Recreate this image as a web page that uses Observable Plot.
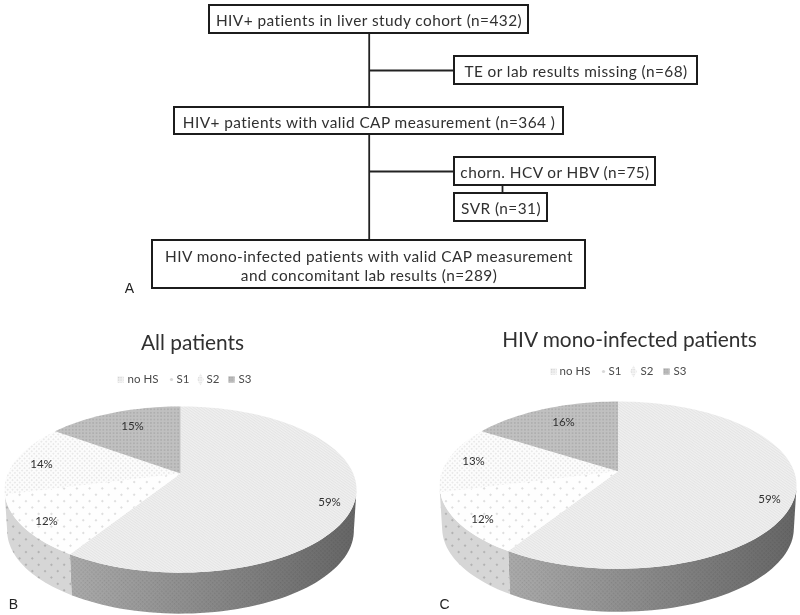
<!DOCTYPE html>
<html>
<head>
<meta charset="utf-8">
<script src="https://cdn.jsdelivr.net/npm/d3@7"></script>
<script src="https://cdn.jsdelivr.net/npm/@observablehq/plot@0.6"></script>
<style>
html,body{margin:0;padding:0;background:#fff}
svg{display:block;filter:blur(0.45px)}
.flow text{letter-spacing:0.43px}
</style>
</head>
<body>
<div id="chart"></div>
<script>
// ---- chart values ----
const stages = ["no HS", "S1", "S2", "S3"];
const allPatients = [59, 12, 14, 15];
const monoInfected = [59, 12, 13, 16];
const allTitle = "All patients";
const monoTitle = "HIV mono-infected patients";
const flowSteps = [
  "HIV+ patients in liver study cohort (n=432)",
  "TE or lab results missing (n=68)",
  "HIV+ patients with valid CAP measurement (n=364 )",
  "chorn. HCV or HBV (n=75)",
  "SVR (n=31)",
  ["HIV mono-infected patients with valid CAP measurement", "and concomitant lab results (n=289)"]
];
const panelLetters = ["A", "B", "C"];

// ---- layout (chart units = pixels of the 800x615 frame) ----
const boxes = [[209,528,5,33],[454,697,56,84],[174,563,107,134],[454,655,157,185],[454,547,193,221],[152,585,240,288]];
const links = [[368.7,33,368.7,240],[368.7,70,454,70],[368.7,171,454,171],[502,185,502,193]];
const lettersAt = [[129,288],[13,604],[444,604]];
const pieB = {cx:180, ay:473, a:172.7, b:80, p:0.193, depth:41, shrink:0.985,
  title:allTitle, tx:192, ty:343, legY:379, swatch:[120,171,200,231], legX:[127,176,206,238],
  labels:[[329,502],[46,521],[41,464],[132,426]], values:allPatients};
const pieC = {cx:617.5, ay:470.7, a:176, b:81.3, p:0.167, depth:43, shrink:0.985,
  title:monoTitle, tx:629, ty:340, legY:371, swatch:[553,603,633,666], legX:[559,608,640,673],
  labels:[[769,499],[482,519],[473,461],[563,422]], values:monoInfected};
const FONT = "Lato, 'Open Sans', sans-serif";
const ink = "#303030";

// projected point on the pie rim, angle clockwise from 12 o'clock
function rim(pie, deg, s = 1, dy = 0) {
  const t = deg * Math.PI / 180, u = Math.sin(t), v = Math.cos(t), w = 1 + pie.p * v;
  return {x: pie.cx + s * pie.a * u / w, y: pie.ay + dy - pie.b * v / w};
}
function arc(pie, from, to, s, dy) {
  const n = Math.max(2, Math.ceil(Math.abs(to - from) / 2)), out = [];
  for (let i = 0; i <= n; i++) out.push(rim(pie, from + (to - from) * i / n, s, dy));
  return out;
}
function slices(pie) {
  let acc = 0;
  return pie.values.map(val => {
    const from = acc * 3.6; acc += val;
    return [{x: pie.cx, y: pie.ay}, ...arc(pie, from, acc * 3.6)];
  });
}
function sideFace(pie, from, to) {
  return [...arc(pie, from, to), ...arc(pie, to, from, pie.shrink, pie.depth)];
}
const area = (pts, fill) => Plot.line(pts, {x:"x", y:"y", fill, stroke:"none", curve:"linear"});

function pieMarks(pie) {
  const end0 = pie.values[0] * 3.6;
  const left = 259, right = 101;
  const marks = [
    area(sideFace(pie, right, end0), `url(#sideGrad)`),
    area(sideFace(pie, right, end0), `url(#sideTex)`),
    area(sideFace(pie, end0, left), "#d6d6d6"),
    area(sideFace(pie, end0, left), `url(#sideDots)`)
  ];
  slices(pie).forEach((pts, i) => marks.push(area(pts, `url(#tex${i})`)));
  marks.push(Plot.text(pie.values.map(v => v + "%"), {
    x: (d, i) => pie.labels[i][0], y: (d, i) => pie.labels[i][1], text: d => d,
    fontFamily: FONT, fontSize: 11.5, fill: ink
  }));
  marks.push(Plot.text([pie.title], {x: () => pie.tx, y: () => pie.ty, text: d => d,
    fontFamily: FONT, fontSize: 20.9, fill: ink}));
  // legend
  stages.forEach((s, i) => marks.push(Plot.dot([s], {x: () => pie.swatch[i], y: () => pie.legY,
    r: [3.6, 1.6, 3.6, 3.6][i], symbol: ["square", "circle", "diamond", "square"][i], fill: `url(#leg${i})`})));
  marks.push(Plot.text(stages, {x: (d, i) => pie.legX[i], y: () => pie.legY, text: d => d,
    textAnchor: "start", fontFamily: FONT, fontSize: 11.5, fill: "#4a4a4a"}));
  return marks;
}

const chart = Plot.plot({
  width: 800, height: 615, margin: 0,
  x: {domain: [0, 800], range: [0, 800], axis: null},
  y: {domain: [0, 615], range: [0, 615], axis: null},
  marks: [
    Plot.link(links, {x1: d => d[0], y1: d => d[1], x2: d => d[2], y2: d => d[3], stroke: "#222", strokeWidth: 1.8}),
    Plot.rect(boxes, {x1: d => d[0], x2: d => d[1], y1: d => d[2], y2: d => d[3], fill: "#fff", stroke: "#1c1c1c", strokeWidth: 2}),
    Plot.text(flowSteps, {
      className: "flow",
      x: (d, i) => (boxes[i][0] + boxes[i][1]) / 2,
      y: (d, i) => (boxes[i][2] + boxes[i][3]) / 2 + 0.7,
      text: d => Array.isArray(d) ? d.join("\n") : d,
      lineHeight: 1.25, fontFamily: FONT, fontSize: 15.4, fill: ink
    }),
    Plot.text(panelLetters, {x: (d, i) => lettersAt[i][0], y: (d, i) => lettersAt[i][1], text: d => d,
      fontFamily: "Liberation Sans", fontSize: 14, fill: "#222"}),
    ...pieMarks(pieB),
    ...pieMarks(pieC)
  ]
});

const defs = `
<linearGradient id="sideGrad" x1="1" y1="0" x2="0" y2="0">
  <stop offset="0" stop-color="#666"/><stop offset="0.45" stop-color="#858585"/><stop offset="1" stop-color="#ababab"/>
</linearGradient>
<pattern id="sideTex" width="3" height="3" patternUnits="userSpaceOnUse" patternTransform="rotate(45)">
  <rect width="1.5" height="1.5" fill="#000" fill-opacity="0.1"/>
</pattern>
<pattern id="sideDots" width="9" height="9" patternUnits="userSpaceOnUse" patternTransform="rotate(45)">
  <circle cx="3" cy="3" r="1.1" fill="#aaa"/>
</pattern>
<pattern id="tex0" width="2.2" height="2.2" patternUnits="userSpaceOnUse" patternTransform="rotate(35)">
  <rect width="2.2" height="2.2" fill="#f0f0f0"/><rect width="2.2" height="1" fill="#e4e4e4"/>
</pattern>
<pattern id="tex1" width="9" height="9" patternUnits="userSpaceOnUse" patternTransform="rotate(45)">
  <rect width="9" height="9" fill="#fefefe"/><circle cx="3" cy="3" r="1" fill="#d4d4d4"/>
</pattern>
<pattern id="tex2" width="3.4" height="3.4" patternUnits="userSpaceOnUse" patternTransform="rotate(45)">
  <rect width="3.4" height="3.4" fill="#fcfcfc"/><rect width="1.7" height="1.7" fill="#e9e9e9"/>
</pattern>
<pattern id="tex3" width="3.4" height="3.4" patternUnits="userSpaceOnUse">
  <rect width="3.4" height="3.4" fill="#c0c0c0"/><rect width="1.7" height="1.7" fill="#aeaeae"/>
</pattern>
<pattern id="leg0" width="2.4" height="2.4" patternUnits="userSpaceOnUse">
  <rect width="2.4" height="2.4" fill="#f2f2f2"/><rect width="1.2" height="1.2" fill="#d2d2d2"/>
</pattern>
<pattern id="leg1" width="4" height="4" patternUnits="userSpaceOnUse">
  <rect width="4" height="4" fill="#d8d8d8"/>
</pattern>
<pattern id="leg2" width="2.4" height="2.4" patternUnits="userSpaceOnUse">
  <rect width="2.4" height="2.4" fill="#f6f6f6"/><rect width="1.2" height="1.2" fill="#d8d8d8"/>
</pattern>
<pattern id="leg3" width="2.4" height="2.4" patternUnits="userSpaceOnUse">
  <rect width="2.4" height="2.4" fill="#bdbdbd"/><rect width="1.2" height="1.2" fill="#a4a4a4"/>
</pattern>`;
const d = document.createElementNS("http://www.w3.org/2000/svg", "defs");
d.innerHTML = defs;
chart.insertBefore(d, chart.firstChild);
document.getElementById("chart").appendChild(chart);
</script>
</body>
</html>
